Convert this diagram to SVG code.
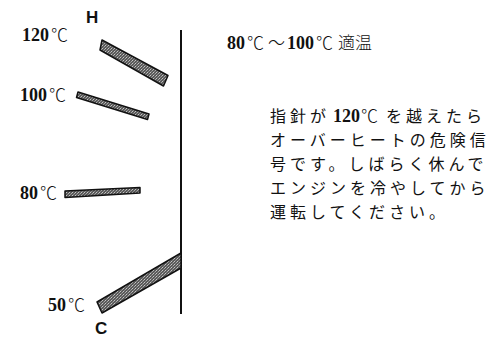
<svg xmlns="http://www.w3.org/2000/svg" width="498" height="337" viewBox="0 0 498 337">
<defs>
<pattern id="stip" width="3" height="3" patternUnits="userSpaceOnUse">
<rect width="3" height="3" fill="#5a5a5a"/>
<rect x="0" y="0" width="1" height="1" fill="#c4c4c4"/>
<rect x="2" y="1" width="1" height="1" fill="#a8a8a8"/>
<rect x="1" y="2" width="1" height="1" fill="#8c8c8c"/>
</pattern>
</defs>
<style>
.num{font-family:"Liberation Serif","DejaVu Serif",serif;font-weight:bold;font-size:18px;fill:#111}
.deg{font-family:"Noto Sans CJK JP",sans-serif;font-weight:300;font-size:17px;fill:#111}
.hc{font-family:"Liberation Sans",Arial,sans-serif;font-weight:bold;font-size:17px;fill:#111}
.jp{font-family:"Noto Sans CJK JP",sans-serif;font-size:16px;fill:#111;letter-spacing:4px}
.needle{fill:url(#stip);stroke:#111;stroke-width:1.5;stroke-linejoin:round}
</style>
<rect width="498" height="337" fill="#fff"/>
<g id="gauge">
<line x1="181" y1="30" x2="181" y2="314" stroke="#111" stroke-width="2"/>
</g>
<g id="needle-120"><polygon class="needle" points="102,40 168,75.5 163.5,86 100,50"/></g>
<g id="needle-100"><polygon class="needle" points="78,92 149,114 147.5,119.5 76.5,97.5"/></g>
<g id="needle-80"><polygon class="needle" points="65,191 140,187.5 140,193 65,197.5"/></g>
<g id="needle-50"><polygon class="needle" points="97,302 181,253 181,268 102,313"/></g>
<g id="labels">
<text class="hc" x="86" y="23">H</text>
<text x="22" y="41"><tspan class="num">120</tspan><tspan class="deg" dx="2">℃</tspan></text>
<text x="20" y="101"><tspan class="num">100</tspan><tspan class="deg" dx="2">℃</tspan></text>
<text x="20" y="199"><tspan class="num">80</tspan><tspan class="deg" dx="2">℃</tspan></text>
<text x="48" y="311"><tspan class="num">50</tspan><tspan class="deg" dx="2">℃</tspan></text>
<text class="hc" x="95" y="334">C</text>
</g>
<g id="range">
<text x="227" y="49"><tspan class="num">80</tspan><tspan class="deg" dx="2">℃</tspan><tspan class="deg" dx="4">～</tspan><tspan class="num" dx="2">100</tspan><tspan class="deg" dx="2">℃</tspan><tspan class="deg" dx="5" font-size="16" font-weight="400">適温</tspan></text>
</g>
<g id="note">
<text y="122"><tspan class="jp" x="270">指針が</tspan><tspan class="num" x="333">120</tspan><tspan class="deg" dx="1">℃</tspan><tspan class="jp" x="386">を越えたら</tspan></text>
<text class="jp" x="270" y="146">オーバーヒートの危険信</text>
<text class="jp" x="270" y="170">号です。しばらく休んで</text>
<text class="jp" x="270" y="194">エンジンを冷やしてから</text>
<text class="jp" x="270" y="218">運転してください。</text>
</g>
</svg>
